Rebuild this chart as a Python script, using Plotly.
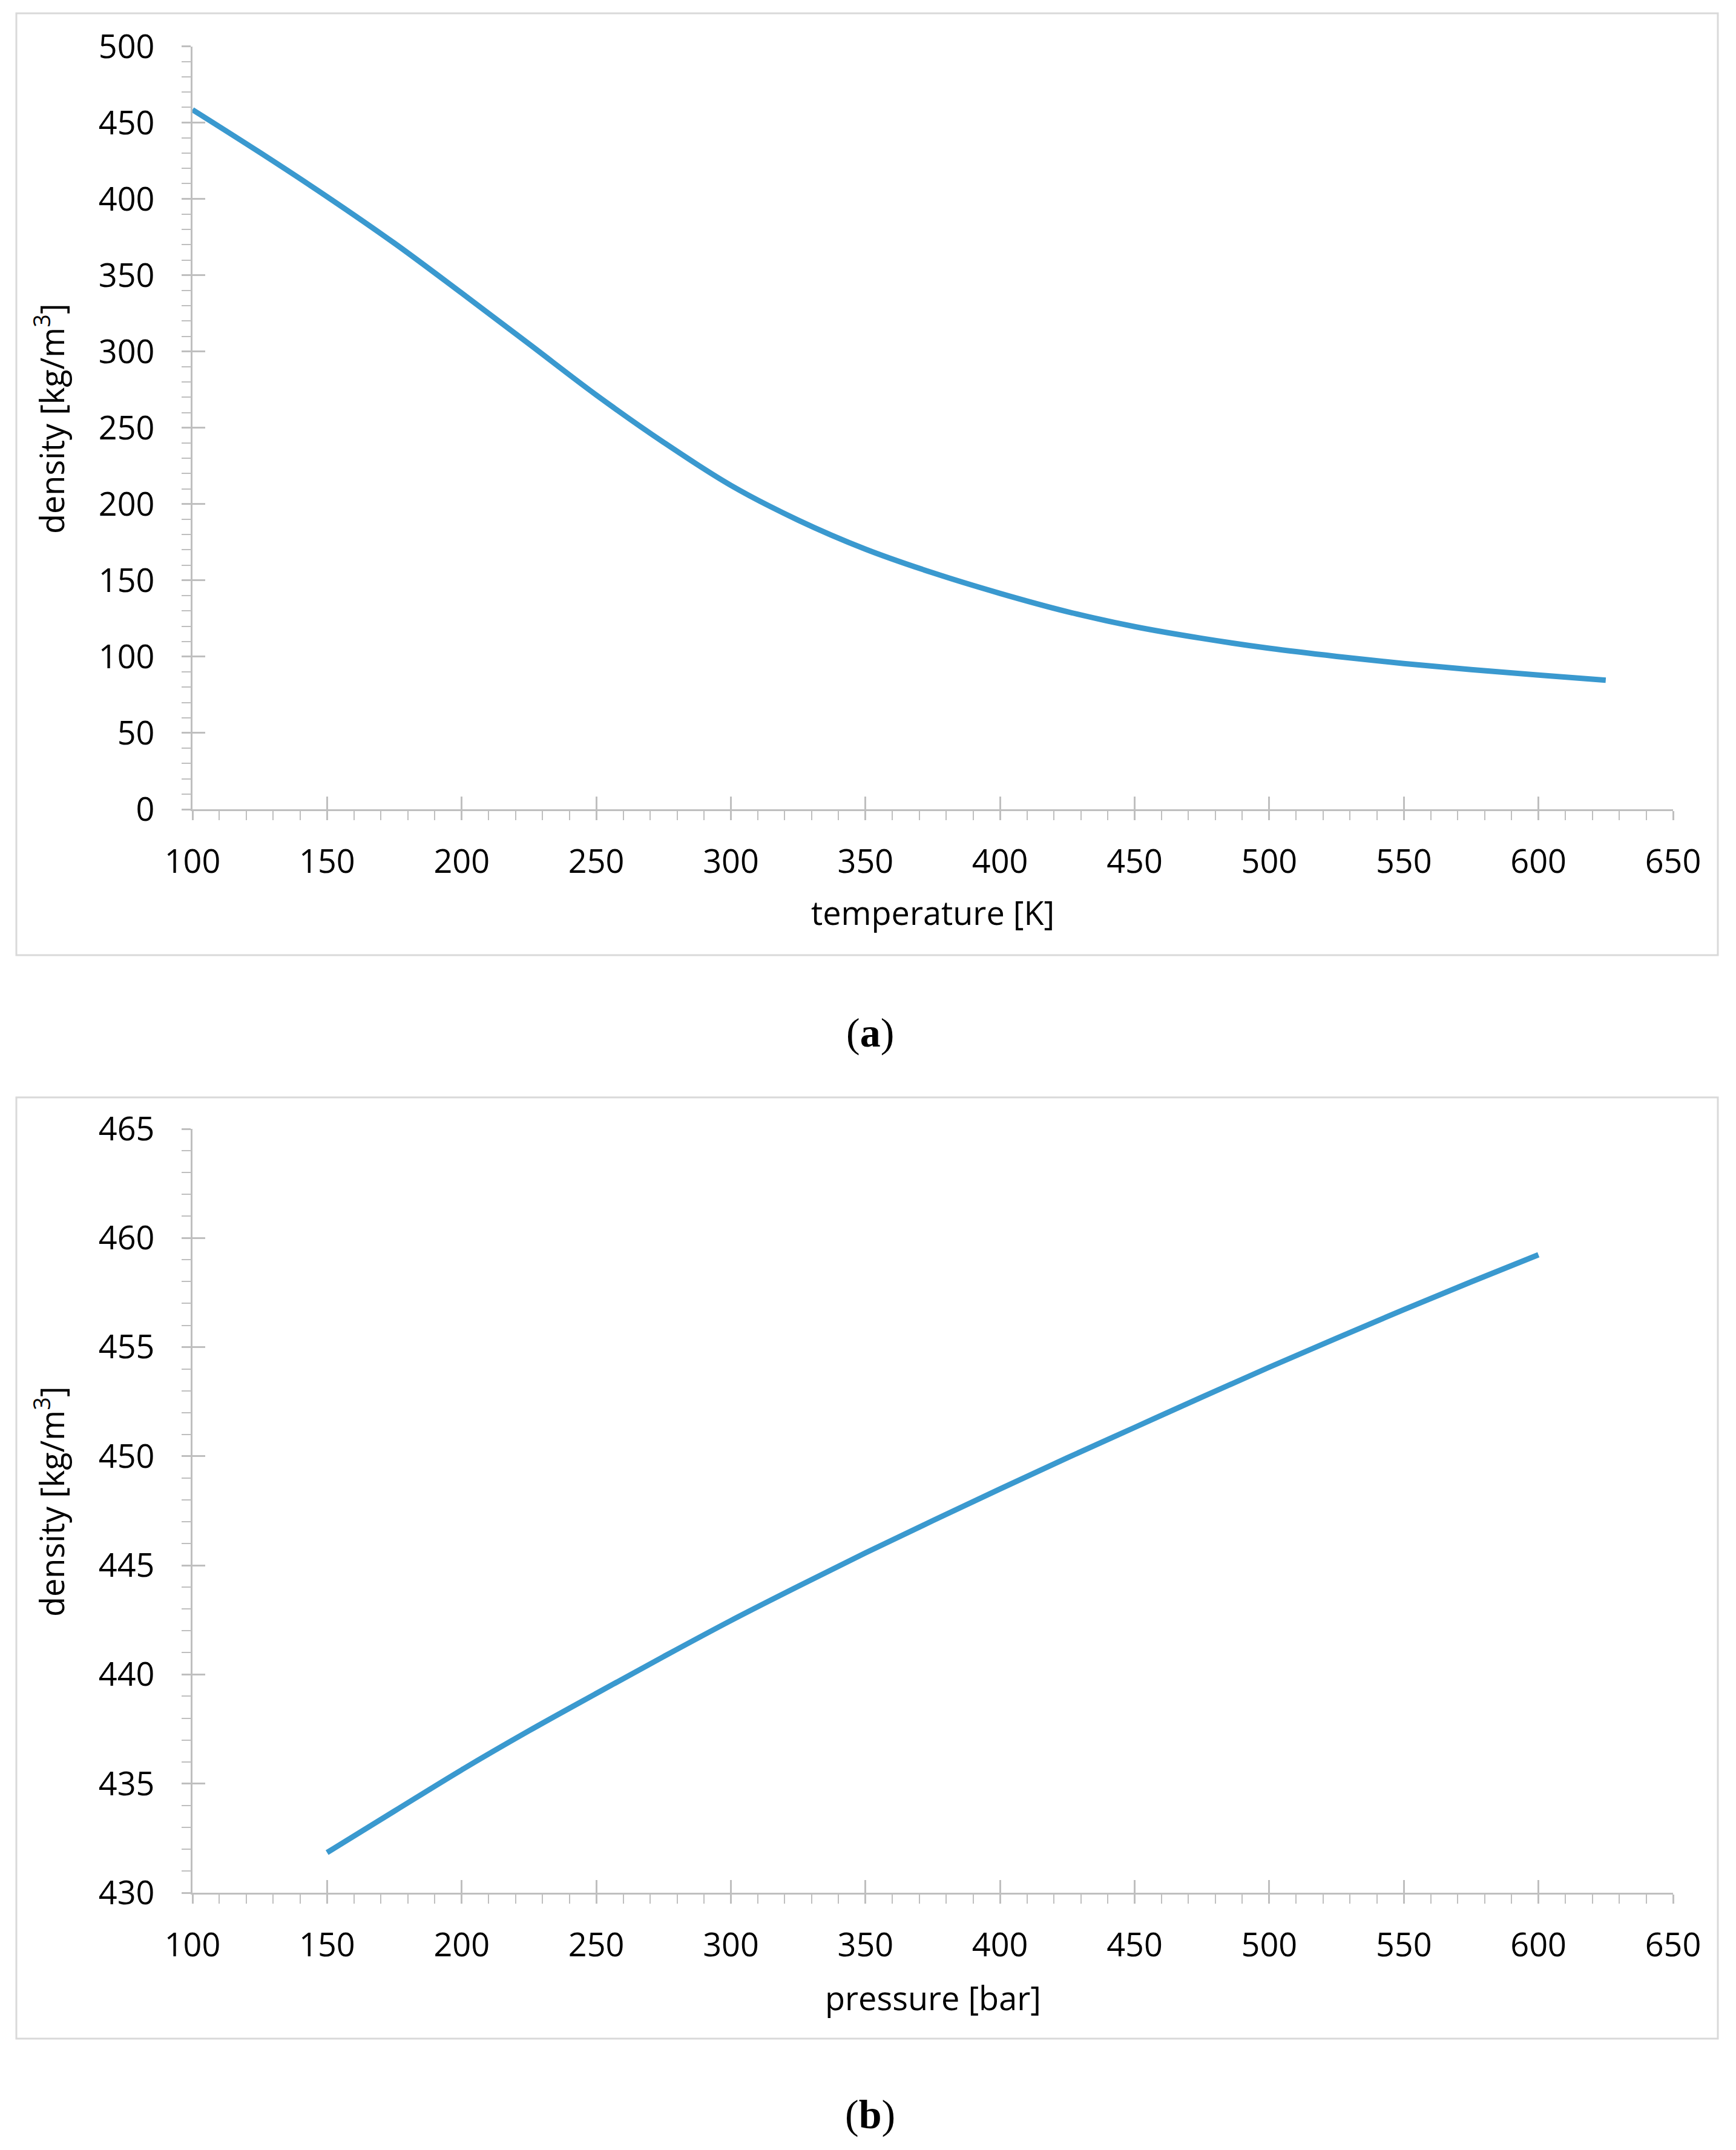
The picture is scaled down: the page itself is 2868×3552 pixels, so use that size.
import plotly.graph_objects as go

# panel (a): density vs temperature
temperature_K = [100, 125, 150, 175, 200, 225, 250, 275, 300, 325, 350,
                 375, 400, 425, 450, 475, 500, 525, 550, 575, 600, 625]
density_a = [458.5, 430.5, 401.5, 371.0, 338.3, 305.0, 271.5, 240.5, 212.3,
             189.5, 170.5, 155.0, 141.5, 129.5, 119.7, 112.0, 105.5, 100.2,
             95.5, 91.5, 88.0, 84.6]

# panel (b): density vs pressure
pressure_bar = [150, 175, 200, 225, 250, 275, 300, 325, 350, 375, 400,
                425, 450, 475, 500, 525, 550, 575, 600]
density_b = [431.84, 433.74, 435.63, 437.42, 439.13, 440.82, 442.47, 444.04,
             445.57, 447.05, 448.50, 449.93, 451.32, 452.71, 454.08, 455.41,
             456.72, 457.99, 459.23]

x_ticks = [100, 150, 200, 250, 300, 350, 400, 450, 500, 550, 600, 650]

W, H = 2868, 3552


def fx(px):
    return px / W


def fy(py):
    return 1 - py / H


LINE_COL = '#3A99CF'
AX_COL = '#BFBFBF'
FONT = 'Open Sans'
FS = 54

fig = go.Figure()
fig.add_trace(go.Scatter(x=temperature_K, y=density_a, mode='lines',
                         line=dict(color=LINE_COL, width=9, shape='spline'),
                         xaxis='x', yaxis='y', showlegend=False))
fig.add_trace(go.Scatter(x=pressure_bar, y=density_b, mode='lines',
                         line=dict(color=LINE_COL, width=9, shape='spline'),
                         xaxis='x2', yaxis='y2', showlegend=False))
# empty traces so the overlay axes (inside half of the major ticks) get drawn
fig.add_trace(go.Scatter(x=[], y=[], xaxis='x3', yaxis='y3', showlegend=False))
fig.add_trace(go.Scatter(x=[], y=[], xaxis='x4', yaxis='y4', showlegend=False))

xdom = [fx(318), fx(2764)]
ydom_a = [fy(1337), fy(76.6)]
ydom_b = [fy(3127), fy(1865)]


def main_axis(rng, dtick, minor_dtick, anchor, domain, standoff):
    return dict(range=rng, dtick=dtick, tick0=rng[0], domain=domain, anchor=anchor,
                showline=True, linecolor=AX_COL, linewidth=2.5,
                ticks='outside', ticklen=15, tickwidth=2.5, tickcolor=AX_COL,
                minor=dict(ticks='outside', ticklen=15, tickwidth=2,
                           tickcolor=AX_COL, dtick=minor_dtick, showgrid=False),
                showgrid=False, zeroline=False, fixedrange=True, automargin=False,
                tickfont=dict(family=FONT, size=FS, color='#000000'),
                ticklabelstandoff=standoff)


def overlay_axis(rng, dtick, over, anchor, domain):
    return dict(range=rng, dtick=dtick, tick0=rng[0], domain=domain, overlaying=over,
                anchor=anchor, showline=False, showticklabels=False,
                ticks='inside', ticklen=21, tickwidth=2.5, tickcolor=AX_COL,
                showgrid=False, zeroline=False, fixedrange=True, automargin=False)


layout = dict(
    width=W, height=H,
    margin=dict(l=0, r=0, t=0, b=0, pad=0, autoexpand=False),
    paper_bgcolor='white', plot_bgcolor='white',
    font=dict(family=FONT, size=FS, color='#000000'),
    xaxis=main_axis([100, 650], 50, 10, 'y', xdom, 22),
    yaxis=main_axis([0, 500], 50, 10, 'x', ydom_a, 34),
    xaxis2=main_axis([100, 650], 50, 10, 'y2', xdom, 22),
    yaxis2=main_axis([430, 465], 5, 1, 'x2', ydom_b, 34),
)
layout['xaxis3'] = overlay_axis([100, 650], 50, 'x', 'y', xdom)
layout['yaxis3'] = overlay_axis([0, 500], 50, 'y', 'x', ydom_a)
layout['xaxis4'] = overlay_axis([100, 650], 50, 'x2', 'y2', xdom)
layout['yaxis4'] = overlay_axis([430, 465], 5, 'y2', 'x2', ydom_b)
for k in ['xaxis', 'xaxis2']:
    layout[k]['tickvals'] = x_ticks
fig.update_layout(**layout)

# chart-area frames
for top, bottom in [(22, 1578), (1813, 3368)]:
    fig.add_shape(type='rect', xref='paper', yref='paper',
                  x0=fx(27), x1=fx(2838), y0=fy(bottom), y1=fy(top),
                  line=dict(color='#D9D9D9', width=3), fillcolor='rgba(0,0,0,0)',
                  layer='below')

xc = fx(1541)
ann = [
    dict(text='temperature [K]', x=xc, y=fy(1507)),
    dict(text='pressure [bar]', x=xc, y=fy(3300)),
    dict(text='density [kg/m<sup>3</sup>]', x=fx(82), y=fy(692), textangle=-90),
    dict(text='density [kg/m<sup>3</sup>]', x=fx(82), y=fy(2481), textangle=-90),
]
for a in ann:
    fig.add_annotation(xref='paper', yref='paper', showarrow=False,
                       xanchor='center', yanchor='middle',
                       font=dict(family=FONT, size=FS, color='#000000'), **a)
for lab, ypos in [('a', 1706), ('b', 3493)]:
    fig.add_annotation(text='(<b>%s</b>)' % lab, xref='paper', yref='paper',
                       x=fx(1438), y=fy(ypos), showarrow=False,
                       xanchor='center', yanchor='middle',
                       font=dict(family='Liberation Serif', size=68, color='#000000'))

fig.write_html("out.html", config={'displayModeBar': False},
               post_script="document.body.style.margin='0';"
                           "document.body.style.overflow='hidden';")
